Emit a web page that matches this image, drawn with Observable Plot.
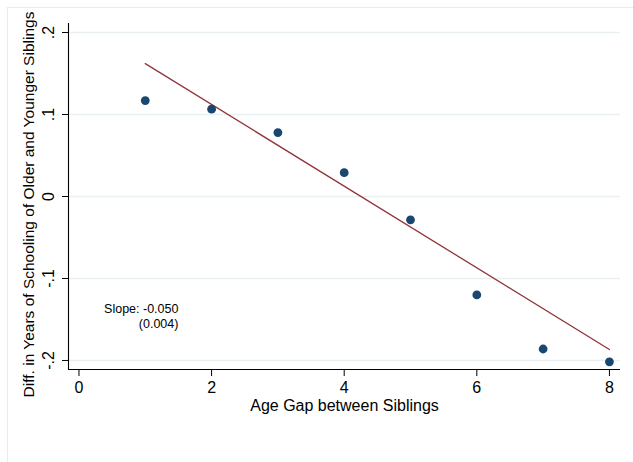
<!DOCTYPE html>
<html><head><meta charset="utf-8">
<script src="https://cdn.jsdelivr.net/npm/d3@7"></script>
<script src="https://cdn.jsdelivr.net/npm/@observablehq/plot@0.6"></script>
<style>
html,body{margin:0;padding:0;background:#fff;}
#wrap{position:relative;width:633px;height:462px;overflow:hidden;}
#frame{position:absolute;left:7px;top:7px;right:-10px;bottom:-10px;border-left:1px solid #e4edf0;border-top:1px solid #e4edf0;pointer-events:none;}
#wrap svg{position:absolute;left:0;top:0;}
</style></head><body><div id="wrap"><div id="frame"></div></div>
<script>
// Data
const ageGap = [1, 2, 3, 4, 5, 6, 7, 8];
const schoolingDiff = [0.117, 0.1065, 0.078, 0.029, -0.0284, -0.120, -0.186, -0.2016];
const fitX = [1, 8];
const fitY = [0.162, -0.1866];
const xTicks = [0, 2, 4, 6, 8];
const yTicks = [-0.2, -0.1, 0, 0.1, 0.2];
const yTickLabels = ["-.2", "-.1", "0", ".1", ".2"];
const slopeText = ["Slope: -0.050", "(0.004)"];
const xTitle = "Age Gap between Siblings";
const yTitle = "Diff. in Years of Schooling of Older and Younger Siblings";

const points = ageGap.map((x, i) => ({x, y: schoolingDiff[i]}));
const fit = fitX.map((x, i) => ({x, y: fitY[i]}));
const xDomain = [-0.158, 8.167];
const yDomain = [-0.211, 0.211];
const font = "'Liberation Sans', Arial, Helvetica, sans-serif";

const chart = Plot.plot({
  width: 633,
  height: 462,
  marginLeft: 68,
  marginRight: 13,
  marginTop: 23,
  marginBottom: 93,
  style: {fontFamily: font, background: "transparent", color: "#000"},
  x: {domain: xDomain, inset: 0},
  y: {domain: yDomain, inset: 0},
  marks: [
    Plot.ruleY(yTicks, {stroke: "#e8f0f2", strokeWidth: 1.5}),
    Plot.ruleX([xDomain[0]], {y1: yDomain[0], y2: yDomain[1], stroke: "#000", strokeWidth: 1.1}),
    Plot.ruleY([yDomain[0]], {x1: xDomain[0], x2: xDomain[1], stroke: "#000", strokeWidth: 1.1}),
    Plot.axisX({ticks: xTicks, tickSize: 7, tickPadding: 5, fontSize: 16, label: null, tickFormat: d => String(d)}),
    Plot.axisY({ticks: yTicks, tickSize: 6, label: null, tickFormat: () => ""}),
    Plot.text(yTicks, {x: () => xDomain[0], y: d => d, text: (d, i) => yTickLabels[i], rotate: -90, dx: -20, fontSize: 16, fill: "#000"}),
    Plot.text([yTitle], {frameAnchor: "left", textAnchor: "middle", lineAnchor: "middle", rotate: -90, dx: -39.5, dy: 8, fontSize: 15.5, fill: "#000"}),
    Plot.text([xTitle], {frameAnchor: "bottom", textAnchor: "middle", lineAnchor: "middle", dy: 36, fontSize: 16, fill: "#000"}),
    Plot.line(fit, {x: "x", y: "y", stroke: "#90353b", strokeWidth: 1.3}),
    Plot.dot(points, {x: "x", y: "y", r: 4.4, fill: "#1a476f", stroke: "none"}),
    Plot.text([slopeText.join("\n")], {x: () => 1.5, y: () => -0.145, textAnchor: "end", fontSize: 12.5, lineHeight: 1.2, fill: "#000"})
  ]
});
document.getElementById("wrap").appendChild(chart);
</script>
</body></html>
